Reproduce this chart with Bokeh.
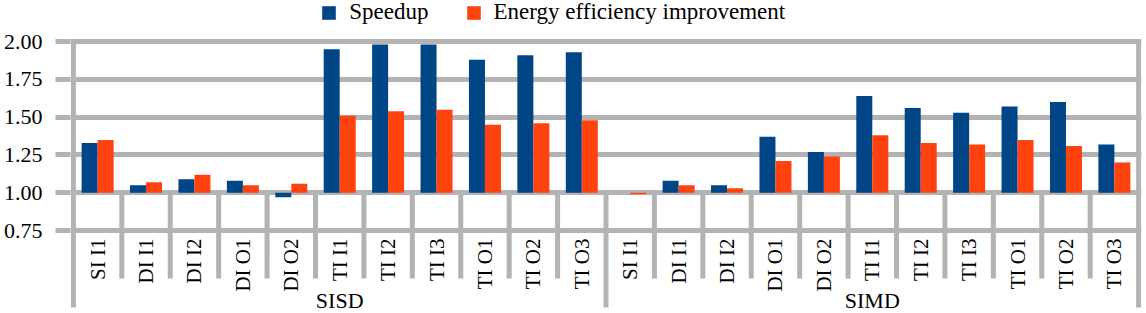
import math
from bokeh.plotting import figure
from bokeh.models import (FactorRange, ColumnDataSource, FixedTicker, Legend,
                          LegendItem, Range1d, PrintfTickFormatter)
from bokeh.transform import dodge
from bokeh.core.properties import value
from bokeh.embed import file_html
from bokeh.resources import INLINE

# ---------------- data ----------------
groups = ["SISD", "SIMD"]
configs = ["SI I1", "DI I1", "DI I2", "DI O1", "DI O2",
           "TI I1", "TI I2", "TI I3", "TI O1", "TI O2", "TI O3"]

sisd_speedup = [1.33, 1.05, 1.09, 1.08, 0.97, 1.95, 1.98, 1.98, 1.88, 1.91, 1.93]
sisd_energy = [1.35, 1.07, 1.12, 1.05, 1.06, 1.51, 1.54, 1.55, 1.45, 1.46, 1.48]
simd_speedup = [1.00, 1.08, 1.05, 1.37, 1.27, 1.64, 1.56, 1.53, 1.57, 1.60, 1.32]
simd_energy = [0.99, 1.05, 1.03, 1.21, 1.24, 1.38, 1.33, 1.32, 1.35, 1.31, 1.20]

series_names = ["Speedup", "Energy efficiency improvement"]
series_colors = ["#004586", "#ff420e"]
y_ticks = [0.75, 1.00, 1.25, 1.50, 1.75, 2.00]
baseline = 1.00

# ---------------- styling ----------------
GRID = "#b3b3b3"
FONT = "Liberation Serif"
W, H = 1146, 313
BAR_W = 0.3305

factors = [(g, c) for g in groups for c in configs]
src = ColumnDataSource(dict(
    x=factors,
    cat=[c for g in groups for c in configs],
    speedup=sisd_speedup + simd_speedup,
    energy=sisd_energy + simd_energy,
))

x_range = FactorRange(*factors, group_padding=0, factor_padding=0,
                      range_padding=0.06, range_padding_units="absolute")
y_range = Range1d(0.2017, 2.2718)

p = figure(width=W, height=H, x_range=x_range, y_range=y_range,
           output_backend="svg", toolbar_location=None, x_axis_location=None,
           min_border_left=70, min_border_right=5, min_border_top=0,
           min_border_bottom=0)
p.outline_line_color = None
p.xgrid.visible = False
p.ygrid.ticker = FixedTicker(ticks=y_ticks)
p.ygrid.grid_line_color = GRID
p.ygrid.grid_line_width = 5

ax = p.yaxis[0]
ax.ticker = FixedTicker(ticks=y_ticks)
ax.formatter = PrintfTickFormatter(format="%.2f")
ax.axis_line_color = None
ax.major_tick_line_color = GRID
ax.major_tick_line_width = 5
ax.major_tick_out = 15
ax.major_tick_in = 0
ax.minor_tick_line_color = None
ax.major_label_standoff = 13
ax.major_label_text_font = FONT
ax.major_label_text_font_size = "22px"
ax.major_label_text_color = "#000000"

# separators in category label area
n = len(factors)
short_x = [factors[i] for i in range(1, n) if i != len(configs)]
p.segment(x0=dodge("x", -0.5, range=x_range), y0=baseline,
          x1=dodge("x", -0.5, range=x_range), y1=0.4332,
          source=ColumnDataSource(dict(x=short_x)),
          line_color=GRID, line_width=5)
p.segment(x0=dodge("x", -0.5, range=x_range), y0=baseline,
          x1=dodge("x", -0.5, range=x_range), y1=0.2414,
          source=ColumnDataSource(dict(x=[factors[len(configs)]])),
          line_color=GRID, line_width=5)
p.segment(x0=dodge("x", -0.5, range=x_range), y0=y_ticks[-1],
          x1=dodge("x", -0.5, range=x_range), y1=0.2414,
          source=ColumnDataSource(dict(x=[factors[0]])),
          line_color=GRID, line_width=5)
p.segment(x0=dodge("x", 0.5, range=x_range), y0=y_ticks[-1],
          x1=dodge("x", 0.5, range=x_range), y1=0.2414,
          source=ColumnDataSource(dict(x=[factors[-1]])),
          line_color=GRID, line_width=5)

# bars
r1 = p.vbar(x=dodge("x", -BAR_W / 2, range=x_range), top="speedup", bottom=baseline,
            width=BAR_W, source=src, fill_color=series_colors[0], line_color=None)
r2 = p.vbar(x=dodge("x", BAR_W / 2, range=x_range), top="energy", bottom=baseline,
            width=BAR_W, source=src, fill_color=series_colors[1], line_color=None)

# category labels
p.text(x="x", y=0.6977, text="cat", source=src, angle=math.pi / 2,
       text_align="right", text_baseline="middle",
       text_font=value(FONT), text_font_size=value("21px"), text_color="#000000")

# group labels
p.text(x=groups, y=[0.2877] * len(groups), text=groups,
       text_align="center", text_baseline="middle",
       text_font=value(FONT), text_font_size=value("22px"), text_color="#000000")

legend = Legend(items=[LegendItem(label=series_names[0], renderers=[r1]),
                       LegendItem(label=series_names[1], renderers=[r2])],
                orientation="horizontal", location=(250.3, 288),
                padding=0, margin=0, spacing=36, glyph_width=17, glyph_height=17,
                label_standoff=12, label_text_font=FONT,
                label_text_font_size="23px", label_text_color="#000000",
                border_line_color=None, background_fill_alpha=0)
p.add_layout(legend)

open("out.html", "w").write(file_html(p, INLINE))
